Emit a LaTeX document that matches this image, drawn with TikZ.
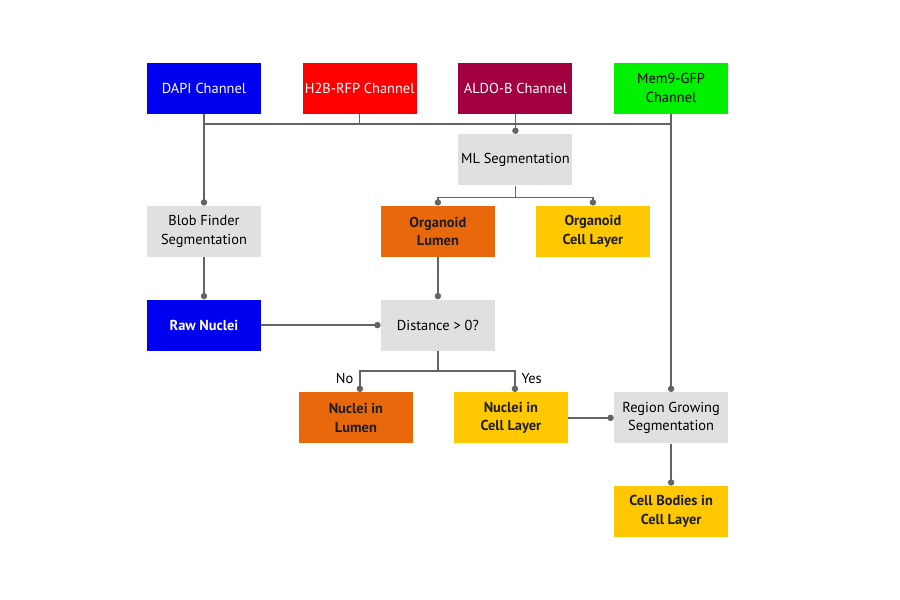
\documentclass[tikz,border=0pt]{standalone}
\usepackage{fontspec}
\setmainfont{PT Sans}
\usetikzlibrary{positioning, arrows.meta, calc}
\definecolor{dapiblue}{HTML}{0000F0}
\definecolor{rfpred}{HTML}{FF0000}
\definecolor{aldored}{HTML}{A30040}
\definecolor{gfpgreen}{HTML}{00F000}
\definecolor{procgrey}{HTML}{E0E0DE}
\definecolor{lumenorange}{HTML}{E9680C}
\definecolor{layeryellow}{HTML}{FFC800}
\definecolor{wire}{HTML}{646464}
\definecolor{textdark}{HTML}{1E1E1E}

\begin{document}
\begin{tikzpicture}[
    node distance=0.82cm,
    box/.style={rectangle, minimum width=2.28cm, minimum height=1.02cm,
                align=center, font=\fontsize{8.2}{10.5}\selectfont, inner sep=0.5pt},
    channel/.style={box, text=white},
    proc/.style={box, fill=procgrey, text=black},
    result/.style={box, text=textdark, font=\fontsize{8.2}{10.5}\selectfont\bfseries},
    wireline/.style={draw=wire, line width=0.85pt},
    link/.style={wireline, -{Circle[length=3.6pt]}},
    branch/.style={font=\fontsize{8.2}{10.5}\selectfont, text=black}
  ]
    \useasboundingbox (0,0) rectangle (18,-12);

    % input channels
    \node[channel, fill=dapiblue] (dapi) at (4.08,-1.76) {DAPI Channel};
    \node[channel, fill=rfpred, right=of dapi] (h2b) {H2B-RFP Channel};
    \node[channel, fill=aldored, right=of h2b] (aldo) {ALDO-B Channel};
    \node[box, fill=gfpgreen, text=black, right=of aldo] (mem) {Mem9-GFP\\Channel};

    % segmentation steps
    \node[proc, below=0.4cm of aldo] (mlseg) {ML Segmentation};
    \node[result, fill=lumenorange, below=0.4cm of mlseg, xshift=-1.55cm] (lumen) {Organoid\\Lumen};
    \node[result, fill=layeryellow, below=0.4cm of mlseg, xshift=1.55cm] (layer) {Organoid\\Cell Layer};
    \node[proc] (blob) at (dapi |- lumen) {Blob Finder\\Segmentation};
    \node[result, fill=dapiblue, text=white, below=0.84cm of blob] (raw) {Raw Nuclei};
    \node[proc] (dist) at (lumen |- raw) {Distance > 0?};

    % outcomes
    \node[result, fill=lumenorange, below=0.82cm of dist, xshift=-1.64cm] (nlumen) {Nuclei in\\Lumen};
    \node[result, fill=layeryellow, below=0.82cm of dist, xshift=1.46cm] (nlayer) {Nuclei in\\Cell Layer};
    \node[proc] (region) at (mem |- nlayer) {Region Growing\\Segmentation};
    \node[result, fill=layeryellow, below=0.84cm of region] (bodies) {Cell Bodies in\\Cell Layer};

    % connectors
    \coordinate (bus) at (0,-2.48);
    \draw[wireline] (dapi.south |- bus) -- (mem.south |- bus);
    \draw[wireline] (h2b.south) -- (h2b.south |- bus);
    \draw[link] (dapi.south) -- (blob.north);
    \draw[link] (aldo.south) -- (mlseg.north);
    \draw[link] (mem.south) -- (region.north);
    \draw[wireline] (mlseg.south) -- ++(0,-0.24) coordinate (mlsplit);
    \draw[link] (mlsplit) -| (lumen.north);
    \draw[link] (mlsplit) -| (layer.north);
    \draw[link] (blob.south) -- (raw.north);
    \draw[link] (lumen.south) -- (dist.north);
    \draw[link] (raw.east) -- (dist.west);
    \draw[wireline] (dist.south) -- ++(0,-0.4) coordinate (distsplit);
    \draw[link] (distsplit) -| node[branch, left, pos=0.68] {No} ($(nlumen.north)+(0.08,0)$);
    \draw[link] (distsplit) -| node[branch, right, pos=0.68] {Yes} ($(nlayer.north)+(0.08,0)$);
    \draw[link] (nlayer.east) -- (region.west);
    \draw[link] (region.south) -- (bodies.north);
  \end{tikzpicture}
\end{document}
